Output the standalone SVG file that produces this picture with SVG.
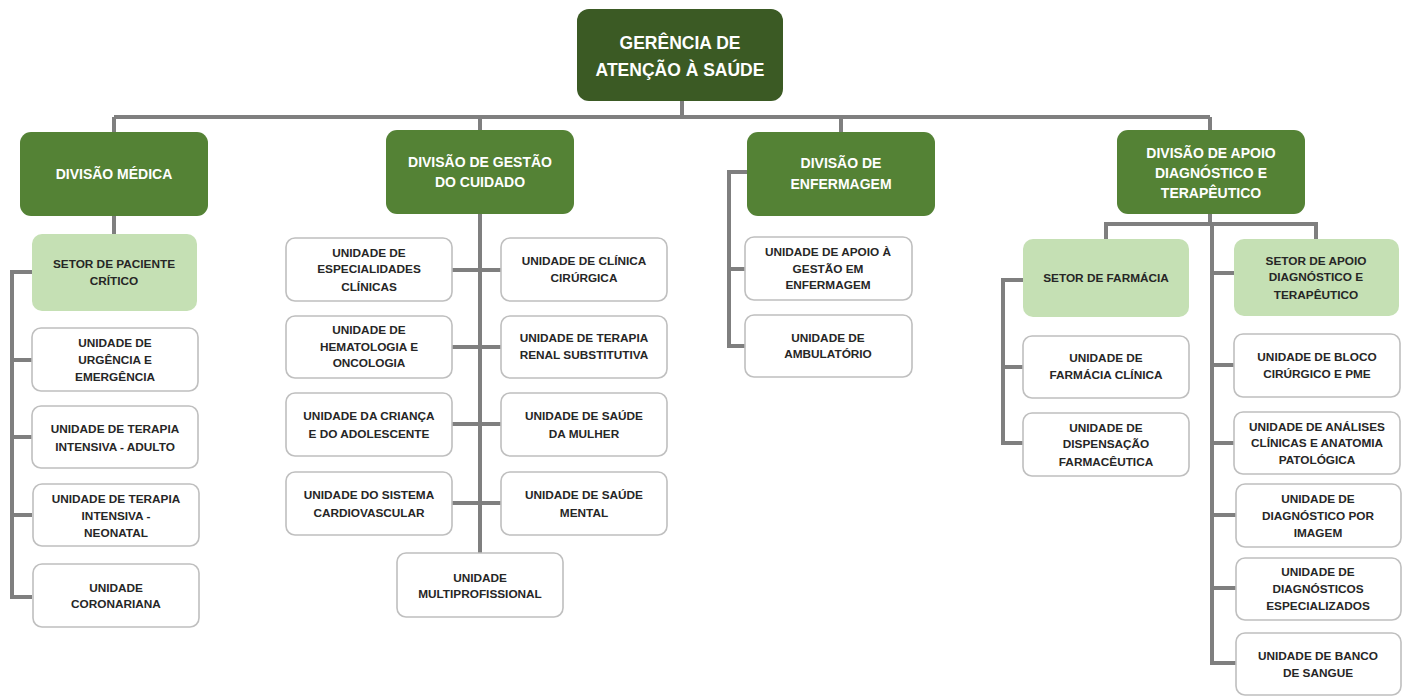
<svg xmlns="http://www.w3.org/2000/svg" width="1403" height="698" viewBox="0 0 1403 698">
<style>
.top{fill:#3b5a24}
.div{fill:#548235}
.set{fill:#c5e0b4}
.unit{fill:#ffffff;stroke:#bfbfbf;stroke-width:1.6}
.tw{font-family:"Liberation Sans",Arial,sans-serif;font-weight:bold;fill:#ffffff;text-anchor:middle}
.tt{font-size:17.5px}
.td{font-size:14px}
.tu{font-family:"Liberation Sans",Arial,sans-serif;font-weight:bold;font-size:11.8px;fill:#262626;text-anchor:middle}
.con{fill:none;stroke:#7f7f7f;stroke-width:4}
</style>
<rect width="1403" height="698" fill="#ffffff"/>
<g id="connectors" class="con">
<path d="M682,101V117M114,117H1210M114,117V132M480,117V130M841,117V132M1210,117V130"/>
<path d="M114,216V234M32,272H12V597H32M12,360H32M12,437H32M12,515H32"/>
<path d="M480,214V553M452,270H501M452,347H501M452,424H501M452,503H501"/>
<path d="M747,172H729V346H745M729,269H745"/>
<path d="M1210,214V224M1106,239V224H1316V239M1212,224V663H1237M1212,273H1234M1212,365H1236M1212,443H1236M1212,515H1236M1212,588H1236"/>
<path d="M1023,280H1003V443H1023M1003,367H1023"/>
</g>
<g id="gerencia"><rect class="top" x="577" y="9" width="206" height="92" rx="12"/><text class="tw tt" x="680"><tspan x="680" y="49">GERÊNCIA DE</tspan><tspan x="680" y="76">ATENÇÃO À SAÚDE</tspan></text></g>
<g id="div-medica"><rect class="div" x="20" y="132" width="188" height="84" rx="11"/><text class="tw td" x="114" y="179">DIVISÃO MÉDICA</text></g>
<g id="div-gestao"><rect class="div" x="386" y="130" width="188" height="84" rx="11"/><text class="tw td"><tspan x="480" y="167">DIVISÃO DE GESTÃO</tspan><tspan x="480" y="187">DO CUIDADO</tspan></text></g>
<g id="div-enfermagem"><rect class="div" x="747" y="132" width="188" height="84" rx="11"/><text class="tw td"><tspan x="841" y="168">DIVISÃO DE</tspan><tspan x="841" y="189">ENFERMAGEM</tspan></text></g>
<g id="div-apoio"><rect class="div" x="1117" y="130" width="188" height="84" rx="11"/><text class="tw td"><tspan x="1211" y="158">DIVISÃO DE APOIO</tspan><tspan x="1211" y="178">DIAGNÓSTICO E</tspan><tspan x="1211" y="198">TERAPÊUTICO</tspan></text></g>

<g id="setor-paciente"><rect class="set" x="32" y="234" width="165" height="77" rx="10"/><text class="tu"><tspan x="114" y="268">SETOR DE PACIENTE</tspan><tspan x="114" y="285">CRÍTICO</tspan></text></g>
<g id="u-urgencia"><rect class="unit" x="32" y="328" width="166" height="63" rx="9"/><text class="tu"><tspan x="115" y="347">UNIDADE DE</tspan><tspan x="115" y="364">URGÊNCIA E</tspan><tspan x="115" y="381">EMERGÊNCIA</tspan></text></g>
<g id="u-uti-adulto"><rect class="unit" x="32" y="406" width="166" height="62" rx="9"/><text class="tu"><tspan x="115" y="433">UNIDADE DE TERAPIA</tspan><tspan x="115" y="451">INTENSIVA - ADULTO</tspan></text></g>
<g id="u-uti-neonatal"><rect class="unit" x="33" y="484" width="166" height="62" rx="9"/><text class="tu"><tspan x="116" y="503">UNIDADE DE TERAPIA</tspan><tspan x="116" y="520">INTENSIVA -</tspan><tspan x="116" y="537">NEONATAL</tspan></text></g>
<g id="u-coronariana"><rect class="unit" x="33" y="564" width="166" height="63" rx="9"/><text class="tu"><tspan x="116" y="592">UNIDADE</tspan><tspan x="116" y="608">CORONARIANA</tspan></text></g>

<g id="u-especialidades"><rect class="unit" x="286" y="238" width="166" height="63" rx="9"/><text class="tu"><tspan x="369" y="257">UNIDADE DE</tspan><tspan x="369" y="273">ESPECIALIDADES</tspan><tspan x="369" y="291">CLÍNICAS</tspan></text></g>
<g id="u-hematologia"><rect class="unit" x="286" y="316" width="166" height="62" rx="9"/><text class="tu"><tspan x="369" y="334">UNIDADE DE</tspan><tspan x="369" y="351">HEMATOLOGIA E</tspan><tspan x="369" y="367">ONCOLOGIA</tspan></text></g>
<g id="u-crianca"><rect class="unit" x="286" y="393" width="166" height="63" rx="9"/><text class="tu"><tspan x="369" y="420">UNIDADE DA CRIANÇA</tspan><tspan x="369" y="438">E DO ADOLESCENTE</tspan></text></g>
<g id="u-cardio"><rect class="unit" x="286" y="472" width="166" height="63" rx="9"/><text class="tu"><tspan x="369" y="499">UNIDADE DO SISTEMA</tspan><tspan x="369" y="517">CARDIOVASCULAR</tspan></text></g>
<g id="u-cirurgica"><rect class="unit" x="501" y="238" width="166" height="63" rx="9"/><text class="tu"><tspan x="584" y="265">UNIDADE DE CLÍNICA</tspan><tspan x="584" y="282">CIRÚRGICA</tspan></text></g>
<g id="u-renal"><rect class="unit" x="501" y="316" width="166" height="62" rx="9"/><text class="tu"><tspan x="584" y="342">UNIDADE DE TERAPIA</tspan><tspan x="584" y="359">RENAL SUBSTITUTIVA</tspan></text></g>
<g id="u-mulher"><rect class="unit" x="501" y="393" width="166" height="63" rx="9"/><text class="tu"><tspan x="584" y="420">UNIDADE DE SAÚDE</tspan><tspan x="584" y="438">DA MULHER</tspan></text></g>
<g id="u-mental"><rect class="unit" x="501" y="472" width="166" height="63" rx="9"/><text class="tu"><tspan x="584" y="499">UNIDADE DE SAÚDE</tspan><tspan x="584" y="517">MENTAL</tspan></text></g>
<g id="u-multi"><rect class="unit" x="397" y="553" width="166" height="64" rx="9"/><text class="tu"><tspan x="480" y="582">UNIDADE</tspan><tspan x="480" y="598">MULTIPROFISSIONAL</tspan></text></g>

<g id="u-apoio-gestao"><rect class="unit" x="745" y="237" width="167" height="63" rx="9"/><text class="tu"><tspan x="828" y="256">UNIDADE DE APOIO À</tspan><tspan x="828" y="273">GESTÃO EM</tspan><tspan x="828" y="289">ENFERMAGEM</tspan></text></g>
<g id="u-ambulatorio"><rect class="unit" x="745" y="315" width="167" height="62" rx="9"/><text class="tu"><tspan x="828" y="342">UNIDADE DE</tspan><tspan x="828" y="358">AMBULATÓRIO</tspan></text></g>

<g id="setor-farmacia"><rect class="set" x="1023" y="239" width="166" height="78" rx="10"/><text class="tu" x="1106" y="282">SETOR DE FARMÁCIA</text></g>
<g id="u-farmacia-clinica"><rect class="unit" x="1023" y="336" width="166" height="62" rx="9"/><text class="tu"><tspan x="1106" y="362">UNIDADE DE</tspan><tspan x="1106" y="379">FARMÁCIA CLÍNICA</tspan></text></g>
<g id="u-dispensacao"><rect class="unit" x="1023" y="413" width="166" height="63" rx="9"/><text class="tu"><tspan x="1106" y="432">UNIDADE DE</tspan><tspan x="1106" y="448">DISPENSAÇÃO</tspan><tspan x="1106" y="466">FARMACÊUTICA</tspan></text></g>

<g id="setor-apoio"><rect class="set" x="1234" y="239" width="165" height="77" rx="10"/><text class="tu"><tspan x="1316" y="265">SETOR DE APOIO</tspan><tspan x="1316" y="281">DIAGNÓSTICO E</tspan><tspan x="1316" y="299">TERAPÊUTICO</tspan></text></g>
<g id="u-bloco"><rect class="unit" x="1234" y="334" width="166" height="63" rx="9"/><text class="tu"><tspan x="1317" y="361">UNIDADE DE BLOCO</tspan><tspan x="1317" y="378">CIRÚRGICO E PME</tspan></text></g>
<g id="u-analises"><rect class="unit" x="1234" y="412" width="166" height="62" rx="9"/><text class="tu"><tspan x="1317" y="431">UNIDADE DE ANÁLISES</tspan><tspan x="1317" y="447">CLÍNICAS E ANATOMIA</tspan><tspan x="1317" y="464">PATOLÓGICA</tspan></text></g>
<g id="u-imagem"><rect class="unit" x="1236" y="484" width="165" height="63" rx="9"/><text class="tu"><tspan x="1318" y="503">UNIDADE DE</tspan><tspan x="1318" y="520">DIAGNÓSTICO POR</tspan><tspan x="1318" y="537">IMAGEM</tspan></text></g>
<g id="u-diagnosticos"><rect class="unit" x="1236" y="558" width="165" height="62" rx="9"/><text class="tu"><tspan x="1318" y="576">UNIDADE DE</tspan><tspan x="1318" y="593">DIAGNÓSTICOS</tspan><tspan x="1318" y="610">ESPECIALIZADOS</tspan></text></g>
<g id="u-banco"><rect class="unit" x="1236" y="633" width="165" height="62" rx="9"/><text class="tu"><tspan x="1318" y="660">UNIDADE DE BANCO</tspan><tspan x="1318" y="677">DE SANGUE</tspan></text></g>
</svg>
